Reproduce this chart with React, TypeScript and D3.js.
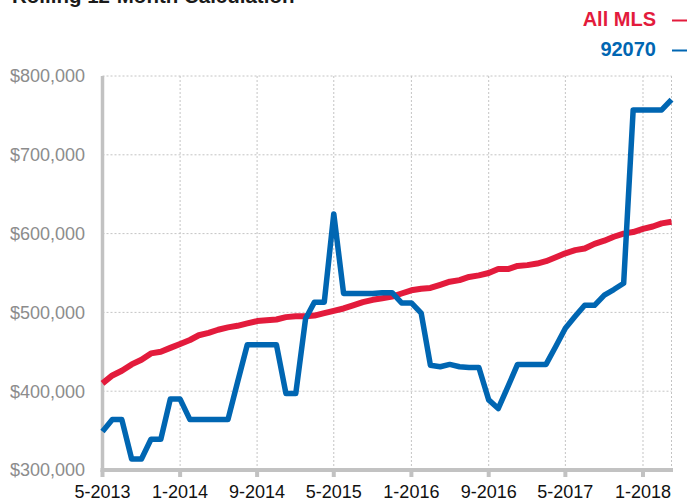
import React from "react";
import * as d3 from "d3";

const START_YEAR = 2013;
const START_MONTH = 5; // May
const allMLS = [
  410, 420, 426, 434, 440, 448, 450, 455, 460, 465, 471, 474, 478, 481, 483, 486,
  489, 490, 491, 494, 495, 495, 496, 499, 502, 505, 509, 513, 516, 518, 520, 524,
  528, 530, 531, 535, 539, 541, 545, 547, 550, 555, 555, 559, 560, 562, 565, 570,
  575, 579, 581, 587, 591, 596, 600, 602, 606, 609, 613, 615,
].map((v) => v * 1000);
const zip92070 = [
  349, 364, 364, 314, 314, 339, 339, 390, 390, 364, 364, 364, 364, 364, 411, 459,
  459, 459, 459, 397, 397, 492, 513, 513, 625, 524, 524, 524, 524, 525, 525, 512,
  512, 499, 433, 431, 434, 431, 430, 430, 389, 378, 406, 434, 434, 434, 434, 457,
  480, 495, 509, 509, 522, 529, 537, 757, 757, 757, 757, 770,
].map((v) => v * 1000);
const yTicks = [300000, 400000, 500000, 600000, 700000, 800000];
const xTickLabels = ["5-2013", "1-2014", "9-2014", "5-2015", "1-2016", "9-2016", "5-2017", "1-2018"];
const seriesNames = ["All MLS", "92070"];
const title = "Rolling 12-Month Calculation";

const RED = "#E31B3C";
const BLUE = "#0066B2";

const dates = allMLS.map((_, i) => new Date(START_YEAR, START_MONTH - 1 + i, 1));
const tickDates = xTickLabels.map((s) => {
  const [m, y] = s.split("-").map(Number);
  return new Date(y, m - 1, 1);
});

export default function App() {
  const W = 691, H = 501;
  const x = d3.scaleTime().domain([dates[0], dates[dates.length - 1]]).range([102.5, 671.5]);
  const y = d3.scaleLinear().domain([300000, 800000]).range([470, 76]);
  const line = d3
    .line<number>()
    .x((_, i) => x(dates[i]))
    .y((d) => y(d))
    .curve(d3.curveLinear);
  const fmt = (v: number) => "$" + d3.format(",")(v);
  const font = "'Liberation Sans', Arial, Helvetica, sans-serif";
  const gridX = [...tickDates.slice(1), dates[dates.length - 1]];
  return (
    <svg width={W} height={H} style={{ position: "absolute", left: 0, top: 0 }} fontFamily={font}>
      <text x={12} y={3} fontSize={20.5} fontWeight="bold" fill="#1a1a1a">{title}</text>
      {/* legend */}
      <text x={656} y={26} textAnchor="end" fontSize={20} fontWeight="bold" fill={RED}>{seriesNames[0]}</text>
      <line x1={672} x2={687} y1={20.5} y2={20.5} stroke={RED} strokeWidth={2} />
      <text x={656} y={56} textAnchor="end" fontSize={20} fontWeight="bold" fill={BLUE}>{seriesNames[1]}</text>
      <line x1={672} x2={687} y1={50.5} y2={50.5} stroke={BLUE} strokeWidth={2} />
      {/* horizontal grid */}
      {yTicks.slice(1).map((t) => (
        <line key={t} x1={102.5} x2={671.5} y1={y(t)} y2={y(t)} stroke="#c4c4c4" strokeWidth={1} strokeDasharray="2,2" />
      ))}
      {/* vertical grid */}
      {gridX.map((d, i) => (
        <line key={i} x1={x(d)} x2={x(d)} y1={76} y2={470} stroke="#c4c4c4" strokeWidth={1} strokeDasharray="2,2" />
      ))}
      {/* y labels */}
      {yTicks.map((t) => (
        <text key={t} x={85} y={y(t)} dy="0.35em" textAnchor="end" fontSize={18} fill="#8c8c8c">{fmt(t)}</text>
      ))}
      {/* axes */}
      <line x1={102.5} x2={102.5} y1={76} y2={472} stroke="#c2c2c2" strokeWidth={3.5} />
      <line x1={100.5} x2={673} y1={470} y2={470} stroke="#c2c2c2" strokeWidth={4} />
      {tickDates.map((d, i) => (
        <g key={i}>
          <line x1={x(d)} x2={x(d)} y1={470} y2={477} stroke="#c2c2c2" strokeWidth={4} />
          <text x={x(d)} y={498} textAnchor="middle" fontSize={18} fill="#111">{xTickLabels[i]}</text>
        </g>
      ))}
      {/* series */}
      <path d={line(allMLS) || ""} fill="none" stroke={RED} strokeWidth={6} strokeLinejoin="round" />
      <path d={line(zip92070) || ""} fill="none" stroke={BLUE} strokeWidth={5.5} strokeLinejoin="round" />
    </svg>
  );
}
